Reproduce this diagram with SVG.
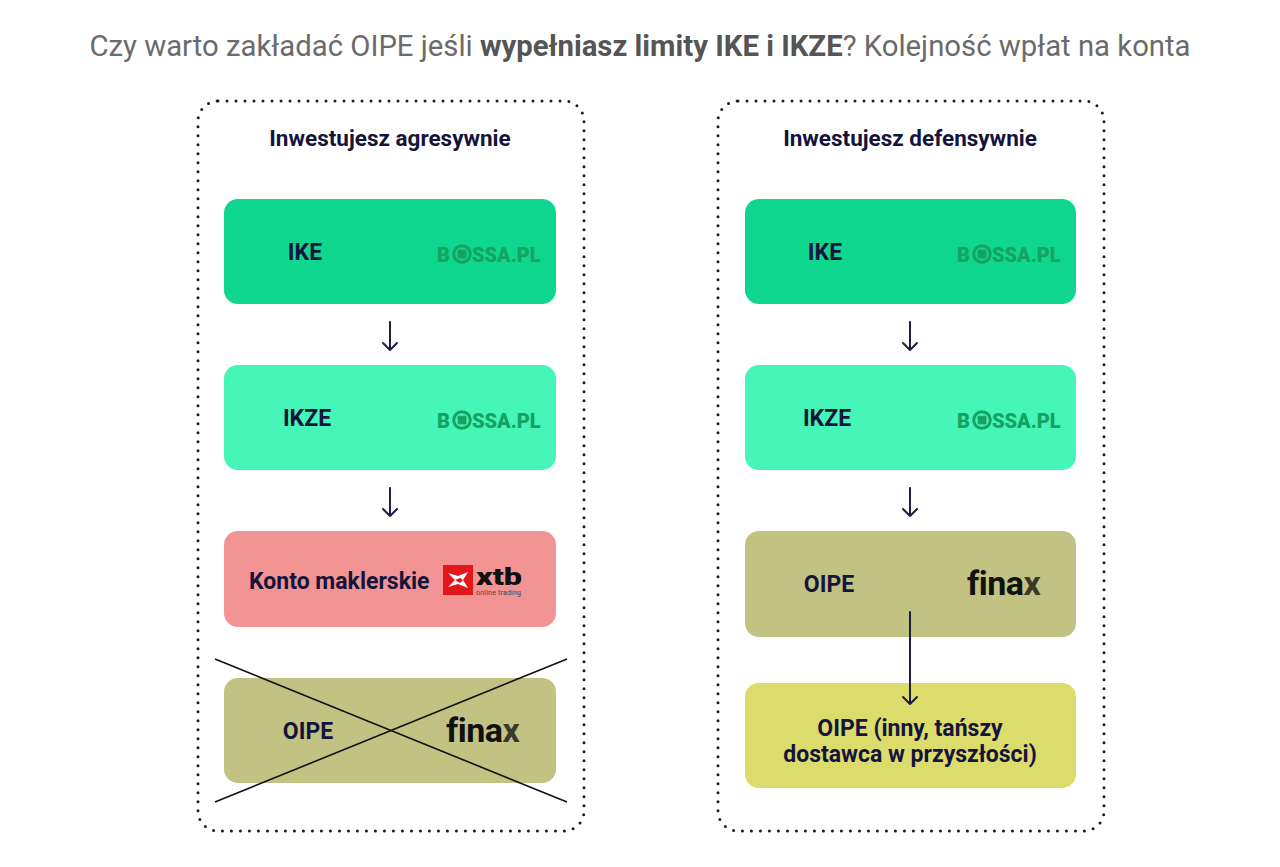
<svg xmlns="http://www.w3.org/2000/svg" width="1280" height="867" viewBox="0 0 1280 867">
<defs>
<style>
.frame{fill:none;stroke:#1a1a2e;stroke-width:3;stroke-dasharray:0 9;stroke-linecap:round}
.lbl{font-family:Roboto,"Liberation Sans",sans-serif;font-weight:bold;font-size:23px;fill:#14143c}
.hdr{font-family:Roboto,"Liberation Sans",sans-serif;font-weight:bold;font-size:22.5px;fill:#14143c}
.bossa{font-family:Roboto,"Liberation Sans",sans-serif;font-weight:900;font-size:20px;fill:#16a262}
.finax{font-family:Roboto,"Liberation Sans",sans-serif;font-weight:bold;font-size:34px;fill:#111;letter-spacing:-0.5px}
.arr{fill:none;stroke:#1c1c44;stroke-width:2;stroke-linecap:round;stroke-linejoin:round}
.cross{stroke:#111;stroke-width:1.6}
</style>
<g id="bossaO">
<circle cx="0" cy="0" r="8.3" fill="none" stroke="#16a262" stroke-width="3"/>
<circle cx="-2" cy="-1.8" r="2.6" fill="#16a262"/>
<circle cx="2" cy="-1.8" r="2.6" fill="#16a262"/>
<circle cx="-1.8" cy="2" r="2.6" fill="#16a262"/>
<circle cx="2" cy="2" r="2.6" fill="#16a262"/>
</g>
</defs>
<rect width="1280" height="867" fill="#fff"/>
<text x="640" y="56" text-anchor="middle" font-family="Roboto,'Liberation Sans',sans-serif" font-size="29.3" fill="#6b6b6b">Czy warto zakładać OIPE jeśli <tspan font-weight="bold" fill="#555">wypełniasz limity IKE i IKZE</tspan>? Kolejność wpłat na konta</text>

<g id="left-panel">
<rect class="frame" x="198" y="101" width="386" height="730" rx="20"/>
<text class="hdr" x="390" y="146" text-anchor="middle">Inwestujesz agresywnie</text>
</g>
<g id="right-panel">
<rect class="frame" x="718" y="101" width="386" height="730" rx="20"/>
<text class="hdr" x="910" y="146" text-anchor="middle">Inwestujesz defensywnie</text>
</g>

<g id="l-ike">
<rect x="224" y="199" width="332" height="105" rx="14" fill="#0fd68f"/>
<text class="lbl" x="305" y="260" text-anchor="middle">IKE</text>
<text class="bossa" x="437" y="262">B</text><use href="#bossaO" x="462" y="254"/><text class="bossa" x="472" y="262">SSA.PL</text>
</g>
<g id="l-ikze">
<rect x="224" y="365" width="332" height="105" rx="14" fill="#46f5b8"/>
<text class="lbl" x="307" y="426" text-anchor="middle">IKZE</text>
<text class="bossa" x="437" y="428">B</text><use href="#bossaO" x="462" y="420"/><text class="bossa" x="472" y="428">SSA.PL</text>
</g>
<g id="l-konto">
<rect x="224" y="531" width="332" height="96" rx="14" fill="#f29494"/>
<text class="lbl" x="249" y="589">Konto maklerskie</text>
<rect x="443" y="565" width="30" height="30" fill="#e3161c"/>
<path d="M448 573 L458 576 L468 572 L463 580 L468 588 L458 584 L448 587 L455 580 Z" fill="#fff"/>
<path d="M455 580 L460 578 L463 580 L460 583 Z" fill="#e3161c"/>
<text x="476" y="585" font-family="Roboto,'Liberation Sans',sans-serif" font-weight="900" font-size="23" fill="#111" textLength="46" lengthAdjust="spacingAndGlyphs">xtb</text>
<text x="476" y="595" font-family="Roboto,'Liberation Sans',sans-serif" font-size="7" fill="#444" textLength="45">online trading</text>
</g>
<g id="l-oipe">
<rect x="224" y="678" width="332" height="105" rx="14" fill="#c2c283"/>
<text class="lbl" x="308" y="739" text-anchor="middle">OIPE</text>
<text class="finax" x="446" y="742">fina<tspan fill="#3a3a2a">x</tspan></text>
</g>

<g id="r-ike">
<rect x="745" y="199" width="331" height="105" rx="14" fill="#0fd68f"/>
<text class="lbl" x="825" y="260" text-anchor="middle">IKE</text>
<text class="bossa" x="957" y="262">B</text><use href="#bossaO" x="982" y="254"/><text class="bossa" x="992" y="262">SSA.PL</text>
</g>
<g id="r-ikze">
<rect x="745" y="365" width="331" height="105" rx="14" fill="#46f5b8"/>
<text class="lbl" x="827" y="426" text-anchor="middle">IKZE</text>
<text class="bossa" x="957" y="428">B</text><use href="#bossaO" x="982" y="420"/><text class="bossa" x="992" y="428">SSA.PL</text>
</g>
<g id="r-oipe">
<rect x="745" y="531" width="331" height="106" rx="14" fill="#c2c283"/>
<text class="lbl" x="829" y="592" text-anchor="middle">OIPE</text>
<text class="finax" x="967" y="595">fina<tspan fill="#3a3a2a">x</tspan></text>
</g>
<g id="r-oipe2">
<rect x="745" y="683" width="331" height="105" rx="14" fill="#dcdc6c"/>
<text class="lbl" x="910" y="736" text-anchor="middle">OIPE (inny, tańszy</text>
<text class="lbl" x="910" y="762" text-anchor="middle">dostawca w przyszłości)</text>
</g>

<g id="connectors">
<path class="arr" d="M390 322 V350 M383 343 L390 350 L397 343"/>
<path class="arr" d="M390 488 V516 M383 509 L390 516 L397 509"/>
<path class="arr" d="M910 322 V350 M903 343 L910 350 L917 343"/>
<path class="arr" d="M910 488 V516 M903 509 L910 516 L917 509"/>
<path class="arr" d="M910 612 V704 M903 697 L910 704 L917 697"/>
<line class="cross" x1="215" y1="659" x2="567" y2="802"/>
<line class="cross" x1="215" y1="802" x2="567" y2="659"/>
</g>
</svg>
